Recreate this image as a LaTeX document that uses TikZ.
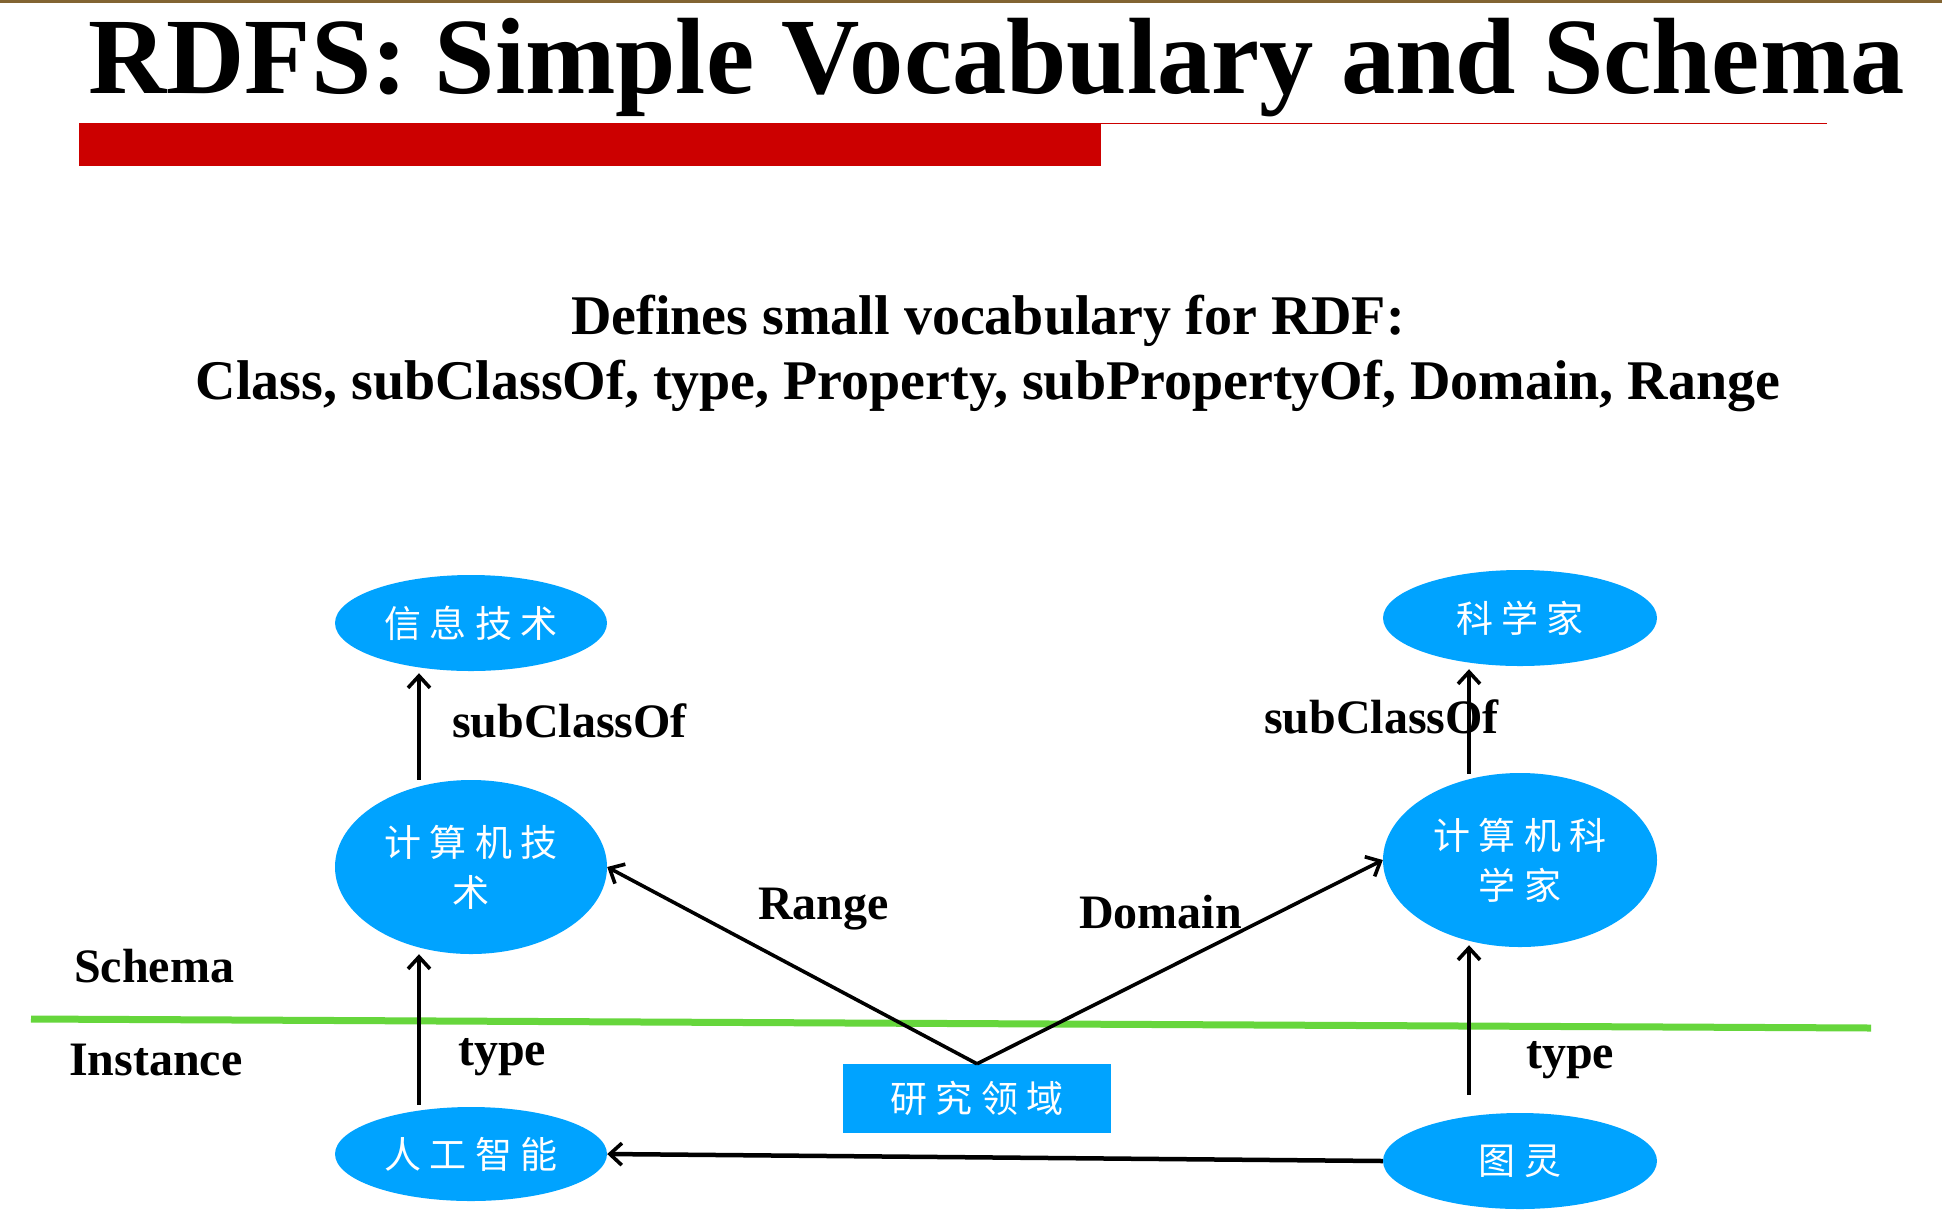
\documentclass[tikz,border=0pt]{standalone}
\usepackage{fontspec}
\setmainfont{Liberation Serif}
\newfontfamily\cjk{Noto Sans CJK SC}[LetterSpace=22]
\usetikzlibrary{shapes.geometric,arrows.meta,calc}

\definecolor{nodeblue}{RGB}{0,163,255}
\definecolor{rulegreen}{RGB}{102,214,60}
\definecolor{barred}{RGB}{204,0,0}
\definecolor{topbrown}{RGB}{130,100,50}

\tikzset{
  cls/.style={ellipse, fill=nodeblue, inner sep=0pt, text=white, align=center,
    font=\cjk\fontsize{37}{50}\selectfont},
  instbox/.style={rectangle, fill=nodeblue, inner sep=0pt, text=white,
    font=\cjk\fontsize{37}{50}\selectfont},
  lbl/.style={anchor=base west, inner sep=0pt, font=\bfseries\fontsize{48}{56}\selectfont},
  arr/.style={draw=black, line width=3.6pt,
    -{Straight Barb[length=12pt,width=22pt,line width=3.6pt]}},
}

\begin{document}
\begin{tikzpicture}[x=1pt,y=-1pt]
\useasboundingbox (0,0) rectangle (1942,1224);
\fill[white] (0,0) rectangle (1942,1224);

% heading
\fill[topbrown] (0,0) rectangle (1942,2.5);
\node[anchor=base west, inner sep=0pt, font=\bfseries\fontsize{108.5}{120}\selectfont]
  (title) at (88,93) {RDFS: Simple Vocabulary and Schema};
\draw[barred, line width=1.5pt] (79,123.5) -- (1827,123.5);
\fill[barred] (79,124) rectangle (1101,166);

% subtitle
\node[anchor=base, inner sep=0pt, font=\bfseries\fontsize{56}{66}\selectfont]
  (sub1) at (988,334) {Defines small vocabulary for RDF:};
\node[anchor=base, inner sep=0pt, font=\bfseries\fontsize{56}{66}\selectfont]
  (sub2) at (988,399) {Class, subClassOf, type, Property, subPropertyOf, Domain, Range};

% schema / instance divider
\coordinate (divL) at (31,1019);
\coordinate (divR) at (1871,1028);
\draw[rulegreen, line width=7pt] (divL) -- (divR);

% classes
\node[cls, minimum width=272pt, minimum height=96pt]  (xxjs)   at (471,623)  {信息技术};
\node[cls, minimum width=274pt, minimum height=96pt]  (kxj)    at (1520,618) {科学家};
\node[cls, minimum width=272pt, minimum height=174pt] (jsjjs)  at (471,867)  {计算机技\\术};
\node[cls, minimum width=274pt, minimum height=174pt] (jsjkxj) at (1520,860) {计算机科\\学家};

% instances
\node[cls, minimum width=272pt, minimum height=94pt]  (rgzn) at (471,1154)  {人工智能};
\node[cls, minimum width=274pt, minimum height=96pt]  (tl)   at (1520,1161) {图灵};
\node[instbox, minimum width=268pt, minimum height=69pt] (yjly) at (977,1098.5) {研究领域};

% connectors
\draw[arr] ($(jsjjs.north)+(-52,0)$) -- ($(xxjs.south)+(-52,2)$);
\draw[arr] ($(rgzn.north)+(-52,-2)$) -- ($(jsjjs.south)+(-52,0)$);
\draw[arr] ($(jsjkxj.north)+(-51,1)$) -- ($(kxj.south)+(-51,3)$);
\draw[arr] ($(tl.north)+(-51,-18)$) -- ($(jsjkxj.south)+(-51,-2)$);
\draw[arr] (yjly.north) -- (jsjjs.east);
\draw[arr] (yjly.north) -- (jsjkxj.west);
\draw[arr, line width=4.5pt] (tl.west) -- (rgzn.east);

% labels
\node[lbl] (lsub1) at (452,737)  {subClassOf};
\node[lbl] (lsub2) at (1264,733) {subClassOf};
\node[lbl] (lrng)  at (758,919)  {Range};
\node[lbl] (ldom)  at (1079,928) {Domain};
\node[lbl] (lsch)  at (74,982)   {Schema};
\node[lbl] (lins)  at (69,1075)  {Instance};
\node[lbl] (ltyp1) at (458,1065) {type};
\node[lbl] (ltyp2) at (1526,1068) {type};
\end{tikzpicture}
\end{document}
